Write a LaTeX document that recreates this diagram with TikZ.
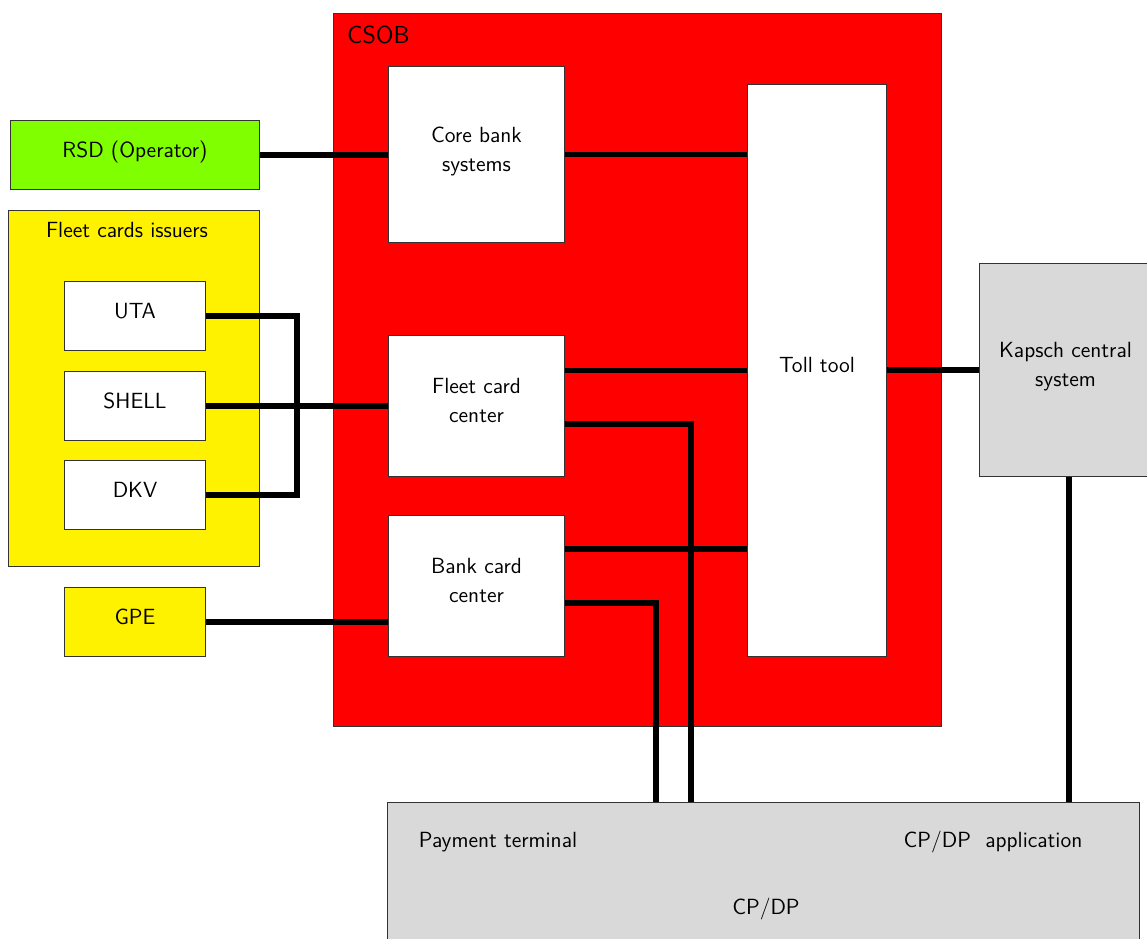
\documentclass[tikz,border=0pt]{standalone}
\usetikzlibrary{calc}
\definecolor{lime}{RGB}{128,255,0}
\definecolor{panelgray}{RGB}{217,217,217}
\tikzset{
  box/.style={draw=black!80, line width=0.6pt, anchor=north west, inner sep=0pt,
    align=center, font=\sffamily\fontsize{12.5}{16.5}\selectfont,
    execute at end node={\rule[-6pt]{0pt}{0pt}}},
  label/.style={font=\sffamily\fontsize{12.5}{16.5}\selectfont},
  wire/.style={line width=3.4pt}
}
\begin{document}
\begin{tikzpicture}[x=0.02cm,y=-0.02cm]
    \clip (0,0) rectangle (1147,939);
    \fill[white] (0,0) rectangle (1147,939);
    \node[box, fill=red, minimum width=12.16cm, minimum height=14.26cm] (csob) at (333,13) {};
    \node[label, anchor=west, font=\sffamily\fontsize{14}{17}\selectfont] (csobl) at (341,35) {CSOB};
    \node[box, fill=lime, minimum width=4.98cm, minimum height=1.38cm] (rsd) at (10,120) {RSD (Operator)};
    \node[box, fill=yellow, minimum width=5.02cm, minimum height=7.12cm] (issuers) at (8,210) {};
    \node[label] (issuersl) at (127,230) {Fleet cards issuers};
    \node[box, fill=white, minimum width=2.82cm, minimum height=1.38cm] (uta) at (64,281) {UTA};
    \node[box, fill=white, minimum width=2.82cm, minimum height=1.38cm] (shell) at (64,371) {SHELL};
    \node[box, fill=white, minimum width=2.82cm, minimum height=1.38cm] (dkv) at (64,460) {DKV};
    \node[box, fill=yellow, minimum width=2.82cm, minimum height=1.38cm] (gpe) at (64,587) {GPE};
    \node[box, fill=white, minimum width=3.52cm, minimum height=3.52cm] (core) at (388,66) {Core bank\\systems};
    \node[box, fill=white, minimum width=3.52cm, minimum height=2.82cm] (fleetc) at (388,335) {Fleet card\\center};
    \node[box, fill=white, minimum width=3.52cm, minimum height=2.82cm] (bankc) at (388,515) {Bank card\\center};
    \node[box, fill=white, minimum width=2.78cm, minimum height=11.44cm] (toll) at (747,84) {Toll tool};
    \node[box, fill=panelgray, minimum width=3.44cm, minimum height=4.26cm] (kapsch) at (979,263) {Kapsch central\\system};
    \node[box, fill=panelgray, minimum width=15.04cm, minimum height=3.2cm] (cpdp) at (387,802) {};
    \node[label] (payterm) at (498,842) {Payment terminal};
    \node[label] (cpdpapp) at (993,842) {CP/DP\ \ application};
    \node[label] (cpdpl) at (766,909) {CP/DP};
    % connections
    \coordinate (fc1) at ($(fleetc.north east)!0.25!(fleetc.south east)$);
    \coordinate (fc2) at ($(fleetc.north east)!0.63!(fleetc.south east)$);
    \coordinate (bc1) at ($(bankc.north east)!0.24!(bankc.south east)$);
    \coordinate (bc2) at ($(bankc.north east)!0.62!(bankc.south east)$);
    \coordinate (kb) at ($(kapsch.south west)!0.52!(kapsch.south east)$);
    \draw[wire] (rsd.east) -- (rsd.east -| core.west);
    \draw[wire] (core.east) -- (core.east -| toll.west);
    \draw[wire] (uta.east) -- ++(91,0) |- (dkv.east);
    \draw[wire] (shell.east) -- (shell.east -| fleetc.west);
    \draw[wire] (gpe.east) -- (gpe.east -| bankc.west);
    \draw[wire] (fc1) -- (fc1 -| toll.west);
    \draw[wire] (bc1) -- (bc1 -| toll.west);
    \draw[wire] (fc2) -| ($(cpdp.north west)+(304,0)$);
    \draw[wire] (bc2) -| ($(cpdp.north west)+(269,0)$);
    \draw[wire] (toll.east) -- (toll.east -| kapsch.west);
    \draw[wire] (kb) -- (kb |- cpdp.north);
\end{tikzpicture}
\end{document}
